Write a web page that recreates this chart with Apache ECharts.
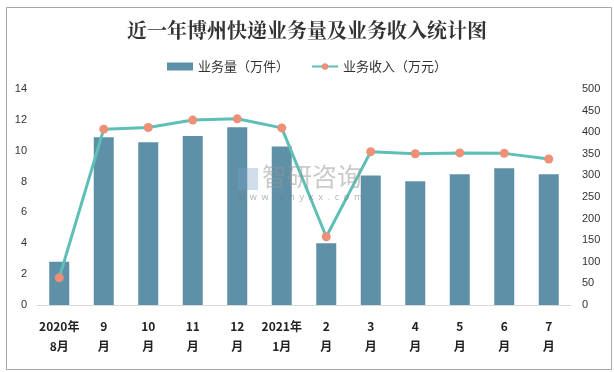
<!DOCTYPE html>
<html><head><meta charset="utf-8">
<script src="https://cdn.jsdelivr.net/npm/echarts@6/dist/echarts.min.js"></script>
<style>html,body{margin:0;padding:0;background:#fff}#c{width:614px;height:372px}</style>
</head><body><div id="c"></div>
<script>
const categories = ['2020年\n8月','9\n月','10\n月','11\n月','12\n月','2021年\n1月','2\n月','3\n月','4\n月','5\n月','6\n月','7\n月'];
const volume = [2.8, 10.87, 10.55, 10.95, 11.52, 10.28, 4.0, 8.4, 8.02, 8.47, 8.86, 8.47];
const revenue = [63, 407, 411, 428, 431, 410, 158, 355, 350, 352, 351, 338];
const leftTicks = {min: 0, max: 14, interval: 2};
const rightTicks = {min: 0, max: 500, interval: 50};

const chart = echarts.init(document.getElementById('c'));
chart.setOption({
  animation: false,
  backgroundColor: '#fff',
  title: {
    text: '近一年博州快递业务量及业务收入统计图',
    left: 'center', top: 15,
    textStyle: {fontFamily: 'Noto Serif CJK SC, Noto Sans CJK SC, serif', fontSize: 20, fontWeight: 'bold', color: '#333'}
  },
  legend: {
    top: 55, left: 'center', itemGap: 22, itemWidth: 26, itemHeight: 8,
    textStyle: {fontFamily: 'Noto Sans CJK SC', fontSize: 13, color: '#333'},
    data: [{name: '业务量（万件）', icon: 'rect'}, {name: '业务收入（万元）'}]
  },
  grid: {left: 37, right: 43, top: 89, bottom: 67},
  xAxis: {
    type: 'category', data: categories,
    axisLine: {lineStyle: {color: '#D9D9D9'}},
    axisTick: {show: false},
    axisLabel: {interval: 0, fontFamily: 'Noto Sans CJK SC', fontSize: 12, fontWeight: 'bold', color: '#222', lineHeight: 20, margin: 11}
  },
  yAxis: [
    {type: 'value', min: leftTicks.min, max: leftTicks.max, interval: leftTicks.interval,
     splitLine: {show: false}, axisLine: {show: false}, axisTick: {show: false},
     axisLabel: {color: '#333', fontSize: 11, fontFamily: 'Liberation Sans', margin: 10}},
    {type: 'value', min: rightTicks.min, max: rightTicks.max, interval: rightTicks.interval,
     splitLine: {show: false}, axisLine: {show: false}, axisTick: {show: false},
     axisLabel: {color: '#333', fontSize: 11, fontFamily: 'Liberation Sans', margin: 11}}
  ],
  graphic: [
    {type: 'rect', left: 4, top: 5, shape: {width: 605, height: 362}, style: {fill: 'none', stroke: '#A6A6A6', lineWidth: 1}, silent: true},
    {type: 'text', left: 262, top: 164, z: 100, style: {text: '智研咨询', fill: 'rgba(150,150,150,0.5)', font: '25px "Noto Sans CJK SC"', letterSpacing: 3}},
    {type: 'text', left: 238, top: 193, z: 100, style: {text: 'w  w  w  .  c  h  y  x  x  .  c  o  m', fill: 'rgba(120,120,120,0.55)', font: '9px "Noto Sans"'}},
    {type: 'rect', left: 238, top: 168, z: 100, shape: {width: 20, height: 22}, style: {fill: 'rgba(120,160,200,0.35)'}}
  ],
  series: [
    {name: '业务量（万件）', type: 'bar', data: volume, barWidth: 20,
     itemStyle: {color: '#5E90A7'}},
    {name: '业务收入（万元）', type: 'line', yAxisIndex: 1, data: revenue,
     symbol: 'circle', symbolSize: 9,
     lineStyle: {color: '#5DBFB6', width: 3},
     itemStyle: {color: '#EE8F78', borderWidth: 0}}
  ]
});
</script></body></html>
